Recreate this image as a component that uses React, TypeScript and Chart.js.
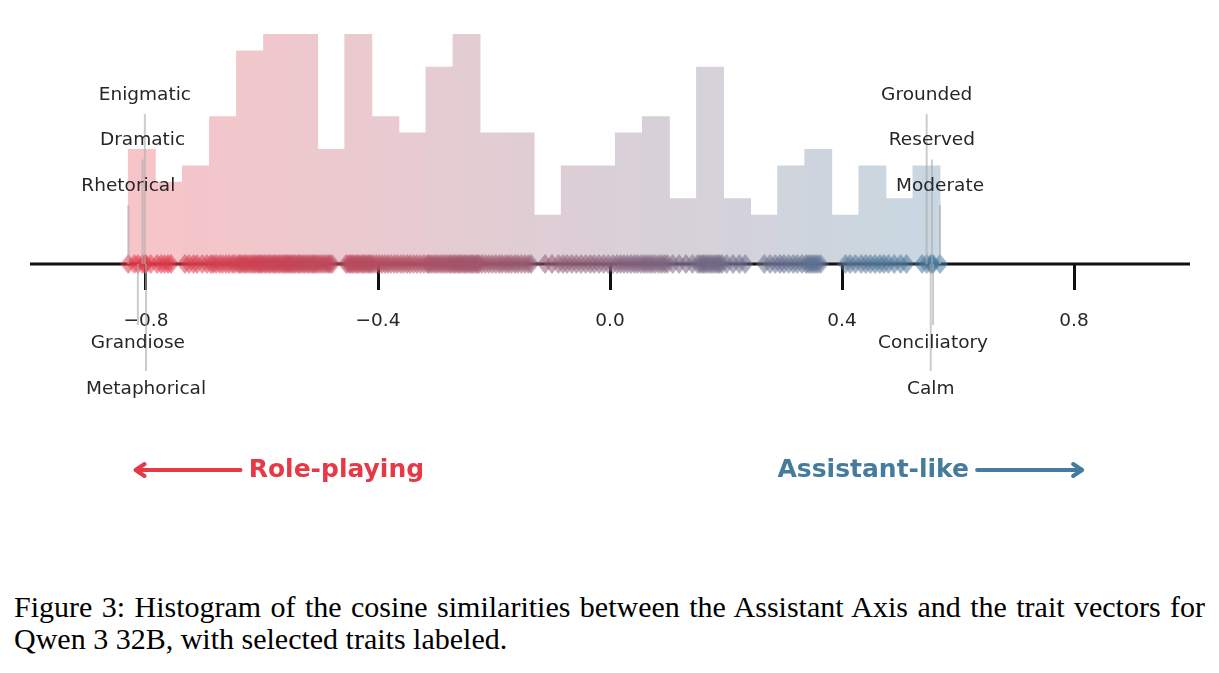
import { useEffect, useRef } from "react";
import { Chart, registerables } from "chart.js";

Chart.register(...registerables);

// Cosine similarity between the Assistant Axis and each trait vector (Qwen 3 32B),
// one line per histogram bin from left to right.
const traitScores: number[] = [
  -0.8305, -0.82, -0.814, -0.806, -0.802, -0.8, -0.792,
  -0.781, -0.774, -0.768, -0.762, -0.757,
  -0.733, -0.726, -0.718, -0.712, -0.703, -0.695,
  -0.688, -0.684, -0.679, -0.673, -0.668, -0.662, -0.657, -0.651, -0.647,
  -0.641, -0.638, -0.634, -0.63, -0.627, -0.623, -0.619, -0.615, -0.612, -0.608, -0.605, -0.602, -0.599,
  -0.595, -0.592, -0.588, -0.585, -0.581, -0.578, -0.575, -0.571, -0.568, -0.564, -0.561, -0.558, -0.555, -0.552,
  -0.549, -0.546, -0.543, -0.539, -0.536, -0.533, -0.529, -0.526, -0.522, -0.519, -0.515, -0.512, -0.509, -0.506,
  -0.502, -0.498, -0.494, -0.49, -0.486, -0.483, -0.479,
  -0.455, -0.451, -0.448, -0.445, -0.442, -0.438, -0.435, -0.432, -0.428, -0.425, -0.422, -0.418, -0.415, -0.412,
  -0.408, -0.403, -0.398, -0.393, -0.388, -0.383, -0.378, -0.372, -0.367,
  -0.361, -0.356, -0.35, -0.345, -0.339, -0.333, -0.327, -0.321,
  -0.315, -0.312, -0.308, -0.304, -0.3, -0.296, -0.292, -0.288, -0.284, -0.28, -0.276, -0.273,
  -0.269, -0.266, -0.262, -0.259, -0.256, -0.252, -0.249, -0.246, -0.242, -0.239, -0.236, -0.232, -0.229, -0.226,
  -0.221, -0.215, -0.209, -0.203, -0.197, -0.191, -0.186, -0.18,
  -0.175, -0.17, -0.164, -0.159, -0.153, -0.147, -0.141, -0.136,
  -0.112, -0.1, -0.089,
  -0.081, -0.074, -0.066, -0.058, -0.05, -0.042,
  -0.034, -0.027, -0.019, -0.011, -0.003, 0.005,
  0.012, 0.018, 0.024, 0.03, 0.036, 0.042, 0.047, 0.053,
  0.058, 0.063, 0.068, 0.073, 0.078, 0.084, 0.089, 0.094, 0.099,
  0.108, 0.119, 0.131, 0.142,
  0.151, 0.155, 0.159, 0.162, 0.166, 0.17, 0.174, 0.178, 0.182, 0.186, 0.189, 0.193,
  0.201, 0.212, 0.223, 0.233,
  0.266, 0.276, 0.285,
  0.293, 0.3, 0.308, 0.316, 0.323, 0.331,
  0.338, 0.342, 0.346, 0.35, 0.354, 0.358, 0.363,
  0.406, 0.414, 0.423,
  0.433, 0.441, 0.449, 0.457, 0.465, 0.472,
  0.48, 0.49, 0.501, 0.511,
  0.538, 0.546, 0.553, 0.555, 0.557, 0.569,
];

// Selected traits and their scores.
const labeledTraits: string[] = [
  "Rhetorical", "Dramatic", "Enigmatic", "Grandiose", "Metaphorical",
  "Moderate", "Reserved", "Grounded", "Conciliatory", "Calm",
];
const labeledScores: number[] = [
  -0.8305, -0.806, -0.802, -0.814, -0.8,
  0.569, 0.555, 0.546, 0.557, 0.553,
];

const tickValues: number[] = [-0.8, -0.4, 0, 0.4, 0.8];
const binCount = 30;

const ROLE_RGB = [230, 57, 70];
const ASSISTANT_RGB = [69, 123, 157];
const ROLE_COLOR = "#e63946";
const ASSISTANT_COLOR = "#457b9d";

// Label rows: positive rows sit above the axis, negative rows below it.
const labelRows: number[] = [1, 2, 3, -1, -2, 1, 2, 3, -1, -2];

const FONT = '"DejaVu Sans", "Noto Sans", sans-serif';
const TEXT_COLOR = "#262626";

const lo = Math.min(...traitScores);
const hi = Math.max(...traitScores);
const binWidth = (hi - lo) / binCount;
const counts: number[] = new Array(binCount).fill(0);
for (const s of traitScores) {
  let i = Math.floor((s - lo) / binWidth);
  if (i >= binCount) i = binCount - 1;
  if (i < 0) i = 0;
  counts[i] += 1;
}
const binCenters = counts.map((_, i) => lo + (i + 0.5) * binWidth);

function cmap(v: number): number[] {
  const t = Math.max(0, Math.min(1, (v - lo) / (hi - lo)));
  return ROLE_RGB.map((a, k) => a + (ASSISTANT_RGB[k] - a) * t);
}

function overWhite(rgb: number[], alpha: number): string {
  const c = rgb.map((v) => Math.round(v * alpha + 255 * (1 - alpha)));
  return `rgb(${c[0]},${c[1]},${c[2]})`;
}

function diamond(rgb: number[], alpha: number, w: number, h: number): HTMLCanvasElement {
  const c = document.createElement("canvas");
  c.width = w;
  c.height = h;
  const g = c.getContext("2d")!;
  g.fillStyle = `rgba(${rgb[0]},${rgb[1]},${rgb[2]},${alpha})`;
  g.beginPath();
  g.moveTo(w / 2, 0);
  g.lineTo(w, h / 2);
  g.lineTo(w / 2, h);
  g.lineTo(0, h / 2);
  g.closePath();
  g.fill();
  return c;
}

function tickText(v: number): string {
  const s = Math.abs(v).toFixed(1);
  return v < -1e-9 ? "\u2212" + s : s;
}

const traitPlugin = {
  id: "traitAnnotations",
  beforeDatasetDraw(chart: any, args: any) {
    if (args.index !== 1) return;
    const { ctx, chartArea, scales } = chart;
    const y0 = scales.y.getPixelForValue(0);
    ctx.save();
    ctx.strokeStyle = "#111111";
    ctx.lineWidth = 3;
    ctx.beginPath();
    ctx.moveTo(chartArea.left, y0);
    ctx.lineTo(chartArea.right, y0);
    ctx.stroke();
    ctx.restore();
  },
  afterDatasetsDraw(chart: any) {
    const { ctx, scales } = chart;
    const x = scales.x;
    const y0 = scales.y.getPixelForValue(0);
    const rowUp = [78, 123.5, 169];
    const rowDown = [79, 125];

    ctx.save();
    // leader lines
    ctx.strokeStyle = "rgba(170,170,170,0.6)";
    ctx.lineWidth = 2;
    labeledScores.forEach((s, i) => {
      const px = x.getPixelForValue(s);
      const r = labelRows[i];
      const ly = r > 0 ? y0 - rowUp[r - 1] : y0 + rowDown[-r - 1];
      const end = r > 0 ? ly + 19 : ly - 18;
      ctx.beginPath();
      ctx.moveTo(px, y0);
      ctx.lineTo(px, end);
      ctx.stroke();
    });
    // trait names
    ctx.fillStyle = TEXT_COLOR;
    ctx.font = `18.5px ${FONT}`;
    ctx.textAlign = "center";
    ctx.textBaseline = "middle";
    labeledScores.forEach((s, i) => {
      const px = x.getPixelForValue(s);
      const r = labelRows[i];
      const ly = r > 0 ? y0 - rowUp[r - 1] : y0 + rowDown[-r - 1];
      ctx.fillText(labeledTraits[i], px, ly);
    });

    // direction arrows
    const ay = y0 + 206;
    const drawArrow = (from: number, to: number, color: string) => {
      const x1 = x.getPixelForValue(from);
      const x2 = x.getPixelForValue(to);
      const dir = Math.sign(x2 - x1);
      ctx.strokeStyle = color;
      ctx.lineWidth = 4;
      ctx.lineCap = "round";
      ctx.lineJoin = "round";
      ctx.beginPath();
      ctx.moveTo(x1, ay);
      ctx.lineTo(x2, ay);
      ctx.moveTo(x2 - dir * 9, ay - 6);
      ctx.lineTo(x2, ay);
      ctx.lineTo(x2 - dir * 9, ay + 6);
      ctx.stroke();
    };
    drawArrow(-0.637, -0.818, ROLE_COLOR);
    drawArrow(0.633, 0.814, ASSISTANT_COLOR);

    ctx.font = `bold 25px ${FONT}`;
    ctx.textBaseline = "middle";
    ctx.textAlign = "left";
    ctx.fillStyle = ROLE_COLOR;
    ctx.fillText("Role-playing", x.getPixelForValue(-0.623), ay);
    ctx.textAlign = "right";
    ctx.fillStyle = ASSISTANT_COLOR;
    ctx.fillText("Assistant-like", x.getPixelForValue(0.619), ay);
    ctx.restore();
  },
};

function TraitHistogram() {
  const ref = useRef<HTMLCanvasElement>(null);

  useEffect(() => {
    const canvas = ref.current;
    if (!canvas) return;

    const barColors = binCenters.map((c) => overWhite(cmap(c), 0.3));
    const markers = traitScores.map((s) => diamond(cmap(s), 0.55, 16, 20));

    const chart = new Chart(canvas, {
      type: "bar",
      data: {
        datasets: [
          {
            type: "bar",
            data: binCenters.map((c, i) => ({ x: c, y: counts[i] })),
            backgroundColor: barColors,
            borderWidth: 0,
            barPercentage: 1.03,
            categoryPercentage: 1,
            order: 2,
          } as any,
          {
            type: "scatter",
            data: traitScores.map((s) => ({ x: s, y: 0 })),
            pointStyle: markers,
            pointRadius: 8,
            showLine: false,
            clip: false,
            order: 1,
          } as any,
        ],
      },
      options: {
        animation: false,
        responsive: false,
        events: [],
        layout: { padding: { left: 30, right: 29, top: 34, bottom: 206 } },
        plugins: { legend: { display: false }, tooltip: { enabled: false } },
        scales: {
          x: {
            type: "linear",
            min: -1,
            max: 1,
            offset: false,
            border: { display: false },
            grid: {
              display: true,
              offset: false,
              drawOnChartArea: false,
              drawTicks: true,
              tickLength: 26,
              tickWidth: 3,
              tickColor: "#111111",
            },
            ticks: {
              color: TEXT_COLOR,
              font: { family: FONT, size: 18.5 },
              padding: 20,
              maxRotation: 0,
              autoSkip: false,
              callback: (v: any) => tickText(Number(v)),
            },
            afterBuildTicks: (scale: any) => {
              scale.ticks = tickValues.map((v) => ({ value: v }));
            },
            afterFit: (scale: any) => {
              scale.height = 90;
            },
          },
          y: {
            display: false,
            min: 0,
            max: Math.max(...counts),
          },
        },
      } as any,
      plugins: [traitPlugin],
    });
    return () => chart.destroy();
  }, []);

  return <canvas ref={ref} width={1219} height={560} style={{ display: "block" }} />;
}

export default function App() {
  return (
    <div
      style={{
        position: "absolute",
        left: 0,
        top: 0,
        width: 1219,
        height: 673,
        background: "#ffffff",
        overflow: "hidden",
      }}
    >
      <TraitHistogram />
      <div
        style={{
          position: "absolute",
          left: 14,
          top: 591,
          width: 1191,
          fontFamily: '"Liberation Serif", "Times New Roman", serif',
          fontSize: 30,
          lineHeight: "32px",
          color: "#000",
        }}
      >
        <div style={{ textAlign: "justify", textAlignLast: "justify", whiteSpace: "nowrap" }}>
          Figure 3: Histogram of the cosine similarities between the Assistant Axis and the trait vectors for
        </div>
        <div>Qwen 3 32B, with selected traits labeled.</div>
      </div>
    </div>
  );
}
